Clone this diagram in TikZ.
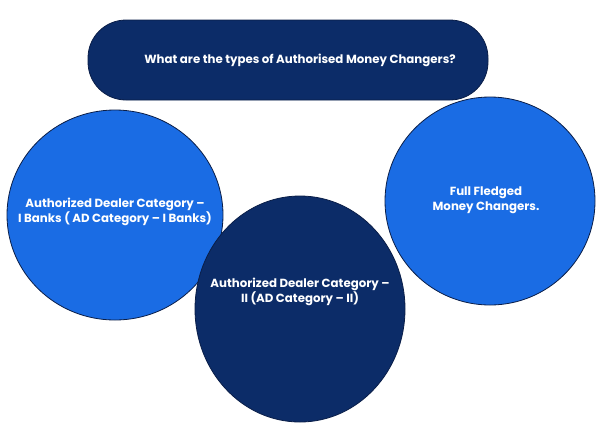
\documentclass[tikz,border=0pt]{standalone}
\usepackage{fontspec}
\setmainfont{Poppins}
\definecolor{navy}{HTML}{0C2C68}
\definecolor{bblue}{HTML}{1A6CE4}
\definecolor{edge}{HTML}{0A1E48}
\begin{document}
\begin{tikzpicture}[x=1pt,y=-1pt,
  lbl/.style={text=white,font=\bfseries\fontsize{11.8}{15}\selectfont,align=center}]
\useasboundingbox (0,0) rectangle (601,432);
\fill[white] (0,0) rectangle (601,432);
\node[draw=edge,fill=navy,rounded corners=38pt,minimum width=400pt,minimum height=80pt,line width=0.8pt] (q) at (288,60) {};
\node[lbl] at (300,60) {What are the types of Authorised Money Changers?};
\draw[edge,fill=bblue,line width=0.8pt] (115,215) ellipse [x radius=108,y radius=105];
\node[lbl] (l) at (115,212) {Authorized Dealer Category –\\ I Banks ( AD Category – I Banks)};
\draw[edge,fill=bblue,line width=0.8pt] (490,201) ellipse [x radius=105,y radius=104];
\node[lbl] (r) at (486,200) {Full Fledged\\ Money Changers.};
\draw[edge,fill=navy,line width=0.8pt] (300,309) ellipse [x radius=105,y radius=113];
\node[lbl] (m) at (300,292) {Authorized Dealer Category –\\ II (AD Category – II)};
\end{tikzpicture}
\end{document}
